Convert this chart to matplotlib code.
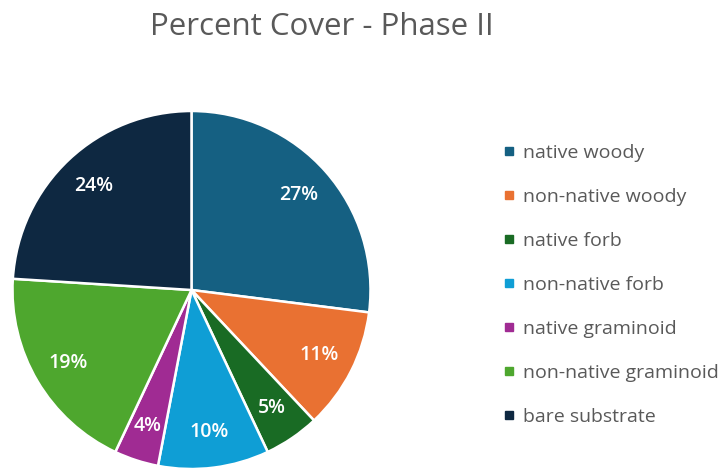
import matplotlib.pyplot as plt
from matplotlib.lines import Line2D

categories = [
    "native woody",
    "non-native woody",
    "native forb",
    "non-native forb",
    "native graminoid",
    "non-native graminoid",
    "bare substrate",
]
cover_pct = [27, 11, 5, 10, 4, 19, 24]
colors = ["#156082", "#E97132", "#196B24", "#0F9ED5", "#A02B93", "#4EA72E", "#0E2841"]

plt.rcParams["font.family"] = ["Open Sans", "DejaVu Sans"]
text_gray = "#595959"

fig = plt.figure(figsize=(7.24, 4.68), dpi=100)

# pie axes sized in pixels so the circle sits at the lower left
W, H = 724, 468
cx, cy, r = 191.5, 290, 179
ax = fig.add_axes([(cx - r) / W, (H - cy - r) / H, 2 * r / W, 2 * r / H])
ax.set_aspect("equal")

wedges, texts, autotexts = ax.pie(
    cover_pct,
    colors=colors,
    startangle=90,
    counterclock=False,
    autopct=lambda p: f"{p:.0f}%",
    pctdistance=0.8,
    wedgeprops=dict(edgecolor="white", linewidth=1.8, clip_on=False),
    textprops=dict(color="white", fontsize=14, fontweight="semibold"),
    radius=1,
)
ax.set_xlim(-1, 1)
ax.set_ylim(-1, 1)

fig.text(322 / W, 1 - 27 / H, "Percent Cover - Phase II", ha="center", va="center",
         fontsize=22.5, color=text_gray)

handles = [
    Line2D([0], [0], marker="s", linestyle="none", markersize=6,
           markerfacecolor=c, markeredgecolor=c)
    for c in colors
]
leg = fig.legend(
    handles, categories,
    loc="upper left",
    bbox_to_anchor=(494 / W, 1 - 134 / H),
    frameon=False,
    fontsize=14,
    labelcolor=text_gray,
    handlelength=0.55,
    handletextpad=0.45,
    labelspacing=1.34,
    borderpad=0,
)

fig.savefig("out.png", dpi=100)
